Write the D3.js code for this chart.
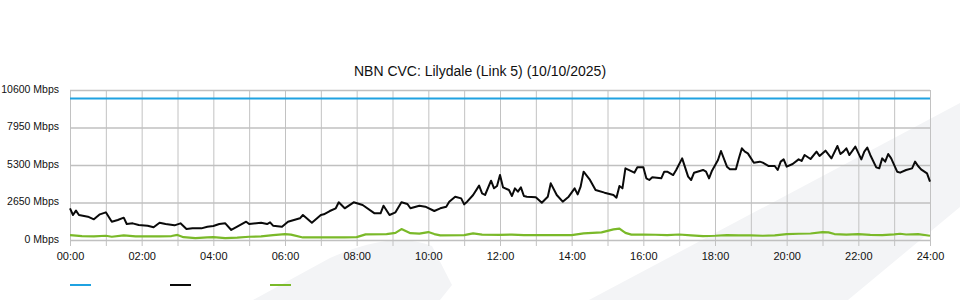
<!DOCTYPE html>
<html>
<head>
<meta charset="utf-8">
<script src="https://cdn.jsdelivr.net/npm/d3@7"></script>
<style>
body{margin:0;background:#fff;}
svg{display:block;font-family:"Liberation Sans",Arial,sans-serif;}
</style>
</head>
<body>
<svg width="960" height="300"></svg>
<script>
var title = "NBN CVC: Lilydale (Link 5) (10/10/2025)";
var yTicks = [0, 2650, 5300, 7950, 10600];
var xLabelEvery = 120; // minutes between labelled ticks

// capacity of the link
var capTimes = ["00:00", "24:00"];
var capValues = [10000, 10000];

// traffic, black line
var inTimes = ["00:00","00:05","00:10","00:15","00:30","00:40","00:50","01:00","01:10","01:20","01:30","01:35","01:45","01:55",
  "02:10","02:20","02:30","02:40","02:55","03:05","03:15","03:25","03:40","03:50","04:00","04:10","04:20","04:30","04:40","04:55",
  "05:00","05:20","05:30","05:35","05:40","05:55","06:05","06:15","06:25","06:30","06:45","07:00","07:05","07:15","07:25","07:30",
  "07:40","07:55","08:10","08:30","08:40","08:45","08:55","09:05","09:15","09:25","09:30","09:45","09:55","10:10","10:20","10:30",
  "10:35","10:45","10:55","11:00","11:05","11:15","11:25","11:30","11:35","11:45","11:50","11:55","12:00","12:05","12:15","12:20",
  "12:25","12:30","12:35","12:40","12:45","13:00","13:10","13:20","13:25","13:35","13:45","13:55","14:05","14:10","14:15","14:20",
  "14:30","14:40","14:55","15:10","15:15","15:20","15:25","15:30","15:45","15:50","16:00","16:05","16:10","16:15","16:30","16:35",
  "16:40","16:50","16:55","17:05","17:15","17:20","17:25","17:40","17:45","17:50","17:55","18:05","18:10","18:20","18:25","18:35",
  "18:40","18:45","18:50","18:55","19:05","19:15","19:20","19:30","19:40","19:45","19:50","19:55","20:00","20:10","20:20","20:25",
  "20:30","20:40","20:50","20:55","21:05","21:15","21:25","21:30","21:35","21:40","21:45","21:55","22:05","22:10","22:15","22:20",
  "22:30","22:35","22:40","22:45","22:50","22:55","23:05","23:10","23:20","23:30","23:35","23:40","23:45","23:55","24:00"];
var inValues = [2240,1767,2073,1767,1650,1460,1814,1955,1295,1413,1578,1130,1177,1060,
  1013,896,1224,1130,1036,1177,777,824,824,942,989,1130,1177,707,942,1295,
  1130,1224,1130,1248,1013,942,1295,1413,1531,1767,1224,1767,1814,2049,2240,2664,
  2240,2664,2473,1885,1885,2426,1767,1955,2664,2544,2240,2426,2355,2049,2240,2355,
  2708,3062,2944,2520,2708,3180,3840,3298,3180,4193,3652,3816,4593,3722,3533,3109,
  3652,3416,3722,3109,3062,3015,2638,3062,4004,3180,2708,3062,3652,3227,3769,4828,
  4287,3533,3345,3180,2992,3816,3652,5064,4758,5135,5135,4357,4240,4428,4357,4828,
  4828,4593,4947,5771,4475,4240,4758,4947,4828,4357,4900,5653,6289,5182,4994,4994,
  5771,6478,6243,6124,5465,5536,5465,5229,5229,4947,5536,5700,5182,5371,5700,5583,
  6007,5724,6243,5936,6313,5771,6643,6077,6243,6478,6007,6596,5700,6243,6525,6007,
  5135,5064,5771,5536,6077,5771,4828,4758,4947,5064,5536,5229,4994,4711,4122];

// traffic, green line
var outTimes = ["00:00","00:20","00:40","01:00","01:10","01:30","01:50","02:10","02:30","02:50","03:00","03:10","03:30","03:50",
  "04:00","04:20","04:40","05:00","05:20","05:40","06:00","06:10","06:30","07:00","07:40","08:00","08:15","08:50","09:05","09:15",
  "09:30","09:45","10:00","10:10","10:20","11:00","11:15","11:30","12:00","12:20","12:40","13:00","13:40","14:00","14:20","14:50",
  "15:10","15:20","15:30","15:40","16:00","16:20","16:40","17:00","17:20","17:40","18:00","18:20","18:40","19:00","19:20","19:40",
  "20:00","20:20","20:40","21:00","21:10","21:20","21:40","22:00","22:20","22:40","23:00","23:10","23:20","23:40","24:00"];
var outValues = [350,280,250,300,230,330,260,250,260,280,360,200,130,180,
  200,130,170,230,250,350,420,380,180,190,190,200,400,420,500,770,
  480,450,560,420,330,340,470,380,360,380,350,340,340,350,470,540,
  750,800,500,380,390,370,350,390,330,270,300,350,320,330,300,330,
  410,440,460,560,540,420,380,420,360,350,400,440,390,410,300];

function toMin(s){
    var p = s.split(":");
    return (+p[0]) * 60 + (+p[1]);
}

function pairs(times, values){
    return times.map(function(t, i){ return {t: toMin(t), v: values[i]}; });
}

function main(){
    var svg = d3.select("svg");

    var x = d3.scaleLinear().domain([0, 1440]).range([70, 930]);
    var y = d3.scaleLinear().domain([0, 10600]).range([240, 90]);

    // faded watermark shapes behind the chart
    var bg = svg.append("g").attr("fill", "#f3f4f6");
    bg.append("path").attr("d", "M253,300 L330,258 Q392,230 432,246 L452,285 L440,300 Z");
    bg.append("path").attr("d", "M589,300 L960,103 L960,207 L848,300 Z");

    // title
    svg.append("text")
        .attr("x", 480).attr("y", 76)
        .attr("text-anchor", "middle")
        .attr("font-size", 14)
        .attr("fill", "#111")
        .text(title);

    // hourly grid + time labels
    var xAxis = svg.append("g")
        .attr("transform", "translate(0,246)")
        .call(d3.axisBottom(x)
            .tickValues(d3.range(0, 1441, 60))
            .tickSize(-156)
            .tickPadding(6)
            .tickFormat(function(d){
                if (d % xLabelEvery) return "";
                return d3.format("02d")(d / 60) + ":00";
            }));
    xAxis.select(".domain").remove();
    xAxis.selectAll("line").attr("stroke", "#c2c2c2");
    xAxis.selectAll("text").attr("font-size", 11).attr("fill", "#111")
        .attr("font-family", "'Liberation Sans',Arial,sans-serif");

    // value grid + labels
    var yAxis = svg.append("g")
        .attr("transform", "translate(70,0)")
        .call(d3.axisLeft(y)
            .tickValues(yTicks)
            .tickSize(-860)
            .tickPadding(11)
            .tickFormat(function(d){ return d + " Mbps"; }));
    yAxis.select(".domain").remove();
    yAxis.selectAll("line").attr("stroke", "#c0c0c0").attr("stroke-width", 1.5);
    yAxis.selectAll("text").attr("font-size", 10.5).attr("fill", "#111").attr("dy", "0.2em")
        .attr("font-family", "'Liberation Sans',Arial,sans-serif");

    var line = d3.line()
        .x(function(d){ return x(d.t); })
        .y(function(d){ return y(d.v); });

    var series = [
        {data: pairs(capTimes, capValues), color: "#1fa2e1", width: 2},
        {data: pairs(inTimes, inValues), color: "#0a0a0a", width: 2},
        {data: pairs(outTimes, outValues), color: "#7ab929", width: 2.2}
    ];

    svg.selectAll(".series")
        .data(series)
        .enter()
        .append("path")
        .attr("class", "series")
        .attr("fill", "none")
        .attr("stroke", function(d){ return d.color; })
        .attr("stroke-width", function(d){ return d.width; })
        .attr("stroke-linejoin", "round")
        .attr("d", function(d){ return line(d.data); });

    // legend swatches (labels are blank in the original)
    svg.selectAll(".legend")
        .data(series)
        .enter()
        .append("line")
        .attr("class", "legend")
        .attr("x1", function(d, i){ return 70 + i * 100; })
        .attr("x2", function(d, i){ return 91 + i * 100; })
        .attr("y1", 285).attr("y2", 285)
        .attr("stroke", function(d){ return d.color; })
        .attr("stroke-width", 2);
}

main();
</script>
</body>
</html>
